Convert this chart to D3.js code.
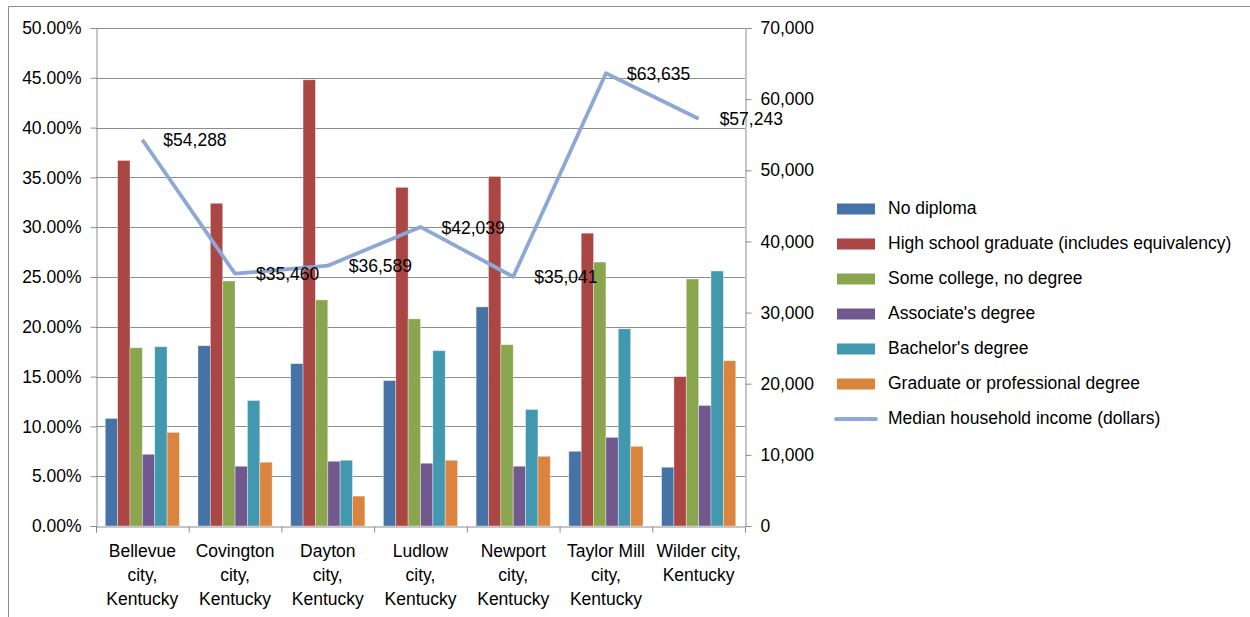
<!DOCTYPE html>
<html><head><meta charset="utf-8">
<script src="https://cdn.jsdelivr.net/npm/d3@7"></script>
<style>
body{margin:0;background:#fff;}
svg text{font-family:"Liberation Sans","DejaVu Sans",sans-serif;fill:#000;}
</style></head>
<body>
<svg id="chart" width="1250" height="617"></svg>
<script>
const categories = [
  ["Bellevue","city,","Kentucky"],
  ["Covington","city,","Kentucky"],
  ["Dayton","city,","Kentucky"],
  ["Ludlow","city,","Kentucky"],
  ["Newport","city,","Kentucky"],
  ["Taylor Mill","city,","Kentucky"],
  ["Wilder city,","Kentucky"]
];
const seriesNames = ["No diploma","High school graduate (includes equivalency)","Some college, no degree","Associate's degree","Bachelor's degree","Graduate or professional degree"];
const noDiploma   = [10.8, 18.1, 16.3, 14.6, 22.0, 7.5, 5.9];
const highSchool  = [36.7, 32.4, 44.8, 34.0, 35.1, 29.4, 15.0];
const someCollege = [17.9, 24.6, 22.7, 20.8, 18.2, 26.5, 24.8];
const associate   = [7.2, 6.0, 6.5, 6.3, 6.0, 8.9, 12.1];
const bachelor    = [18.0, 12.6, 6.6, 17.6, 11.7, 19.8, 25.6];
const graduate    = [9.4, 6.4, 3.0, 6.6, 7.0, 8.0, 16.6];
const income      = [54288, 35460, 36589, 42039, 35041, 63635, 57243];
const lineName    = "Median household income (dollars)";
const leftTicks   = [0,5,10,15,20,25,30,35,40,45,50];
const rightTicks  = [0,10000,20000,30000,40000,50000,60000,70000];

const seriesValues = [noDiploma, highSchool, someCollege, associate, bachelor, graduate];
const colors = ["#4572A7","#AA4643","#89A54E","#71588F","#4198AF","#DB843D"];
const lineColor = "#8DA8D5";
const gridColor = "#8C8C8C";
const FS = 17.5;

const svg = d3.select("#chart");
const L = 96, R = 745, T = 28, B = 526;

// frame
svg.append("path").attr("d","M8.5,640V6.5H1260").attr("fill","none").attr("stroke","#8C8C8C").attr("stroke-width",1);

const x = d3.scaleBand().domain(d3.range(categories.length)).range([L, R]).paddingInner(0).paddingOuter(0);
const bw = x.bandwidth() / 7.5;
const xs = d3.scaleBand().domain(d3.range(6)).range([0.75*bw, 0.75*bw + 6*bw]);
const yL = d3.scaleLinear().domain([0,50]).range([B, T]);
const yR = d3.scaleLinear().domain([0,70000]).range([B, T]);

// gridlines
svg.append("g").selectAll("line").data(leftTicks.filter(d=>d>0)).join("line")
  .attr("x1",L).attr("x2",R).attr("y1",d=>Math.round(yL(d))+0.5).attr("y2",d=>Math.round(yL(d))+0.5)
  .attr("stroke",gridColor).attr("stroke-width",1);

// bars
const groups = svg.append("g").selectAll("g").data(categories).join("g")
  .attr("transform",(d,i)=>`translate(${x(i)},0)`);
groups.selectAll("rect").data((d,i)=>seriesValues.map((s,k)=>({k, v:s[i]}))).join("rect")
  .attr("x",d=>xs(d.k)).attr("width",xs.bandwidth())
  .attr("y",d=>yL(d.v)).attr("height",d=>B-yL(d.v))
  .attr("fill",d=>colors[d.k]).attr("stroke","rgba(255,255,255,0.45)").attr("stroke-width",0.8);

// left axis
const axL = svg.append("g").attr("transform",`translate(${L+0.5},0)`)
  .call(d3.axisLeft(yL).tickValues(leftTicks).tickSize(6).tickPadding(9).tickFormat(d=>d.toFixed(2)+"%"));
// right axis
const axR = svg.append("g").attr("transform",`translate(${R+0.5},0)`)
  .call(d3.axisRight(yR).tickValues(rightTicks).tickSize(6).tickPadding(9).tickFormat(d3.format(",")));
// bottom axis
const axB = svg.append("g").attr("transform",`translate(0,${B+0.5})`)
  .call(d3.axisBottom(d3.scaleLinear().domain([0,7]).range([L,R])).tickValues(d3.range(8)).tickSize(6).tickFormat(""));
[axL,axR,axB].forEach(a=>{
  a.select(".domain").attr("stroke",gridColor);
  a.selectAll(".tick line").attr("stroke",gridColor);
  a.selectAll("text").attr("font-size",FS).attr("font-family","Liberation Sans");
});

// category labels
const cl = svg.append("g").selectAll("text").data(categories).join("text")
  .attr("x",(d,i)=>x(i)+x.bandwidth()/2).attr("y",557).attr("text-anchor","middle").attr("font-size",FS);
cl.selectAll("tspan").data(d=>d).join("tspan")
  .attr("x",function(){return this.parentNode.getAttribute("x");})
  .attr("dy",(d,j)=>j===0?0:24).text(d=>d);

// line
const line = d3.line().x((d,i)=>x(i)+x.bandwidth()/2).y(d=>yR(d));
svg.append("path").datum(income).attr("d",line).attr("fill","none")
  .attr("stroke",lineColor).attr("stroke-width",3.8).attr("stroke-linejoin","round");
svg.append("g").selectAll("text").data(income).join("text")
  .attr("x",(d,i)=>x(i)+x.bandwidth()/2+21).attr("y",d=>yR(d)+2)
  .attr("dominant-baseline","middle").attr("font-size",FS)
  .text(d=>"$"+d3.format(",")(d));

// legend
const legendItems = seriesNames.map((n,k)=>({n, k}));
const lg = svg.append("g");
legendItems.forEach((it,k)=>{
  const yy = 209 + k*35;
  lg.append("rect").attr("x",837).attr("y",yy-5.5).attr("width",38).attr("height",11).attr("fill",colors[k]);
  lg.append("text").attr("x",888).attr("y",yy).attr("dominant-baseline","middle").attr("font-size",FS).text(it.n);
});
const ly = 209 + 6*35;
lg.append("line").attr("x1",836).attr("x2",876).attr("y1",ly).attr("y2",ly).attr("stroke",lineColor).attr("stroke-width",3.8).attr("stroke-linecap","round");
lg.append("text").attr("x",888).attr("y",ly).attr("dominant-baseline","middle").attr("font-size",FS).text(lineName);
</script>
</body></html>
